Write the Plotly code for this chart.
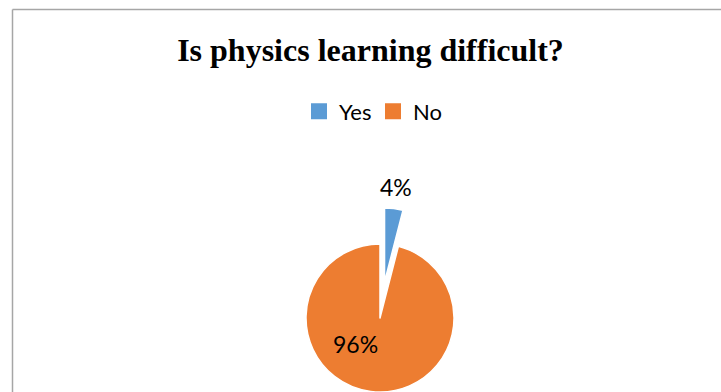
import math
import plotly.graph_objects as go

# ---- data ----
categories = ["Yes", "No"]
values = [4, 96]
colors = ["#5B9BD5", "#ED7D31"]
title_text = "Is physics learning difficult?"

total = sum(values)
pct_labels = [f"{round(v / total * 100)}%" for v in values]

# ---- layout constants (pixels) ----
W, H = 721, 392
R = 74
CX, CY = 380, 318
PULL = 0.49  # offset of the separated slice, as fraction of radius
# data-label anchor points (pixels)
label_pos = [(396, 187), (CX - 25, CY + 26)]

def dom(cx, cy, r):
    return dict(x=[max(0, (cx - r) / W), min(1, (cx + r) / W)],
                y=[max(0, (H - cy - r) / H), min(1, (H - cy + r) / H)])

mid = values[0] / total * math.pi  # mid angle of first slice (from 12 o'clock, clockwise)
dx = PULL * R * math.sin(mid)
dy = -PULL * R * math.cos(mid)

transparent = "rgba(0,0,0,0)"
label_font = dict(family="Lato", size=23, color="#000000")

fig = go.Figure()

# main (non-separated) slice
fig.add_trace(go.Pie(
    labels=categories, values=values, sort=False, direction="clockwise", rotation=0,
    marker=dict(colors=[transparent, colors[1]],
                line=dict(color="white", width=[0, 1.5])),
    textinfo="none",
    domain=dom(CX, CY, R), showlegend=False, hoverinfo="skip",
))

# separated slice
fig.add_trace(go.Pie(
    labels=categories, values=values, sort=False, direction="clockwise", rotation=0,
    marker=dict(colors=[colors[0], transparent],
                line=dict(color="white", width=[1.5, 0])),
    textinfo="none",
    domain=dom(CX + dx, CY + dy, R), showlegend=False, hoverinfo="skip",
))

# legend entries
for c, col in zip(categories, colors):
    fig.add_trace(go.Scatter(x=[None], y=[None], mode="markers", name=c,
                             marker=dict(symbol="square", size=16, color=col,
                                         line=dict(width=0))))

annotations = [
    dict(text=t, x=p[0] / W, y=1 - p[1] / H, xref="paper", yref="paper",
         xanchor="center", yanchor="middle", showarrow=False, font=label_font)
    for t, p in zip(pct_labels, label_pos)
]

fig.update_layout(
    width=W, height=H,
    margin=dict(l=0, r=0, t=0, b=0),
    paper_bgcolor="white", plot_bgcolor="white",
    title=dict(text=title_text, x=370.5 / W, xanchor="center",
               y=1 - 50 / H, yanchor="middle", yref="container",
               font=dict(family="Liberation Serif", size=32, color="#000000", weight="bold")),
    legend=dict(orientation="h", x=299 / W, xanchor="left", y=1 - 111.5 / H, yanchor="middle",
                font=dict(family="Lato", size=22, color="#000000"),
                entrywidth=29, entrywidthmode="pixels",
                bgcolor="rgba(0,0,0,0)"),
    xaxis=dict(visible=False), yaxis=dict(visible=False),
    annotations=annotations,
    shapes=[
        dict(type="line", xref="paper", yref="paper", x0=12.5 / W, x1=1,
             y0=1 - 9.5 / H, y1=1 - 9.5 / H, line=dict(color="#A6A6A6", width=1.5)),
        dict(type="line", xref="paper", yref="paper", x0=12.5 / W, x1=12.5 / W,
             y0=0, y1=1 - 9.5 / H, line=dict(color="#A6A6A6", width=1.5)),
    ],
)

fig.write_html("out.html")
